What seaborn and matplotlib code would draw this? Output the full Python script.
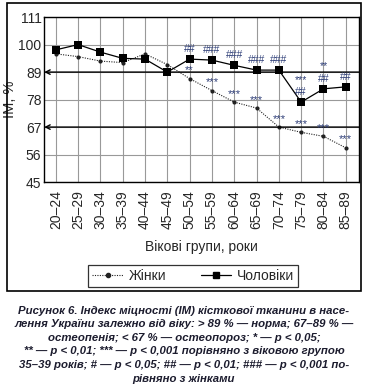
import numpy as np
import pandas as pd
import matplotlib
matplotlib.use("Agg")
import matplotlib.pyplot as plt
import matplotlib.patches as patches
from matplotlib.lines import Line2D
import seaborn as sns

# age groups and index of bone strength (IM, %)
age_groups = ["20–24", "25–29", "30–34", "35–39", "40–44", "45–49", "50–54",
              "55–59", "60–64", "65–69", "70–74", "75–79", "80–84", "85–89"]
women = [96.3, 95.2, 93.4, 92.8, 96.3, 92.0, 86.4, 81.6, 77.0, 74.6, 67.0, 64.9, 63.3, 58.7]
men = [97.9, 100.0, 97.0, 94.5, 94.2, 89.0, 94.2, 93.8, 91.7, 89.8, 89.8, 77.0, 82.3, 83.1]

# significance marks
women_marks = ["", "", "", "", "", "", "**", "***", "***", "***", "***", "***", "***", "***"]
men_marks = ["", "", "", "", "", "", "##", "###", "###", "###", "###", "***\n##", "**\n##", "##"]

y_ticks = [45, 56, 67, 78, 89, 100, 111]
thresholds = [89, 67]

caption = ("Рисунок 6. Індекс міцності (ІМ) кісткової тканини в насе-\n"
           "лення України залежно від віку: > 89 % — норма; 67–89 % —\n"
           "остеопенія; < 67 % — остеопороз; * — p < 0,05;\n"
           "** — p < 0,01; *** — p < 0,001 порівняно з віковою групою\n"
           "35–39 років; # — p < 0,05; ## — p < 0,01; ### — p < 0,001 по-\n"
           "рівняно з жінками")

sns.set_style("white")
plt.rcParams['font.family'] = ['Liberation Sans', 'DejaVu Sans']
narrow = ['Liberation Sans Narrow', 'Liberation Sans', 'DejaVu Sans']

fig = plt.figure(figsize=(3.68, 3.89), dpi=100)
ax = fig.add_axes([0.12, 0.532, 0.856, 0.424])

mark_color = "#2f3f78"

sns.lineplot(x=age_groups, y=women, ax=ax, color="#222222", linestyle=(0, (1, 1.2)),
             linewidth=0.8, marker="o", markersize=3, markeredgewidth=0, sort=False)
sns.lineplot(x=age_groups, y=men, ax=ax, color="black", linewidth=0.9,
             marker="s", markersize=6, markeredgewidth=0, sort=False)

ax.set_xlim(-0.52, 13.6)
ax.set_ylim(45, 111)
ax.set_yticks(y_ticks)
ax.grid(True, color="#999999", linewidth=0.8)
ax.set_axisbelow(True)
for s in ax.spines.values():
    s.set_color("black")
    s.set_linewidth(1.0)

# threshold lines with arrows pointing to the y axis
for t in thresholds:
    ax.annotate("", xy=(0, t), xycoords=("axes fraction", "data"),
                xytext=(1, t), textcoords=("axes fraction", "data"),
                arrowprops=dict(arrowstyle="->", color="black", lw=1.0,
                                shrinkA=0, shrinkB=0, mutation_scale=8))

# significance labels
for i, m in enumerate(women_marks):
    if m:
        ax.annotate(m, (i, women[i]), xytext=(0, 2.5), textcoords="offset points",
                    ha="center", va="bottom", fontsize=8, color=mark_color)
for i, m in enumerate(men_marks):
    if m:
        ax.annotate(m, (i, men[i]), xytext=(0, 3.5), textcoords="offset points",
                    ha="center", va="bottom", fontsize=7.5, color=mark_color,
                    linespacing=1.3)

ax.tick_params(axis="x", labelrotation=90, labelsize=10, length=0, pad=6)
ax.tick_params(axis="y", labelsize=10, length=0, pad=2)
for lab in ax.get_yticklabels():
    lab.set_family(narrow)
ax.set_ylabel("IM, %", fontsize=10.5, family=narrow)
ax.yaxis.set_label_coords(-0.085, 0.5)
ax.set_xlabel("Вікові групи, роки", fontsize=10, labelpad=8)

handles = [Line2D([], [], color="#222222", linestyle=(0, (1, 1.2)), lw=0.8, marker="o", markersize=3),
           Line2D([], [], color="black", lw=0.9, marker="s", markersize=5)]
leg = fig.legend(handles, ["Жінки", "Чоловіки"], loc="center", bbox_to_anchor=(0.525, 0.29),
                 ncol=2, fontsize=10, frameon=True, fancybox=False, handlelength=2.2,
                 columnspacing=2.5, borderpad=0.3, handletextpad=0.4)
leg.get_frame().set_edgecolor("black")
leg.get_frame().set_linewidth(0.9)

# outer frame
fig.patches.append(patches.Rectangle((7 / 368, 1 - 291 / 389), 354 / 368, 288 / 389,
                                     transform=fig.transFigure, fill=False,
                                     edgecolor="black", linewidth=1.2))

fig.text(0.5, 1 - 344.5 / 389, caption, ha="center", va="center", fontsize=8.2,
         fontweight="bold", style="italic", color="#1c1c2e", linespacing=1.45)

fig.savefig("out.png", dpi=100)
